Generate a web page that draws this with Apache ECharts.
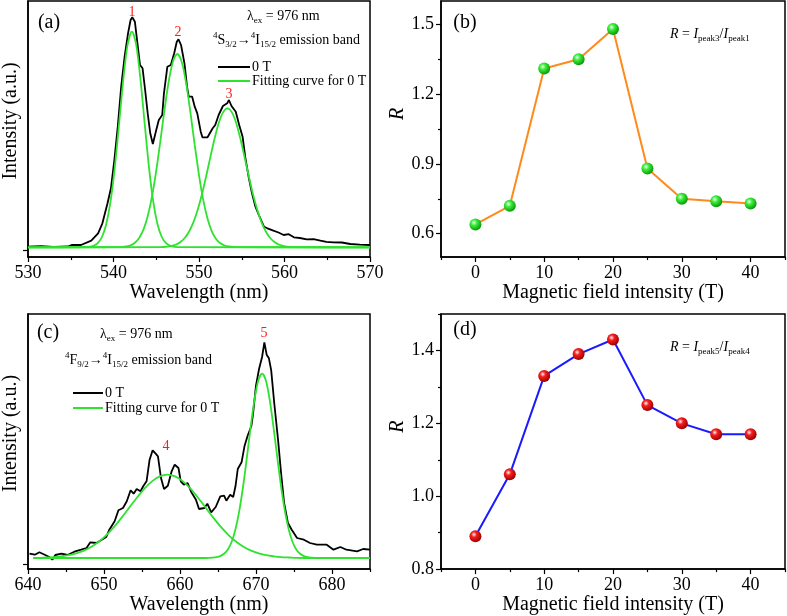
<!DOCTYPE html>
<html>
<head>
<meta charset="utf-8">
<script src="https://cdn.jsdelivr.net/npm/echarts@6/dist/echarts.min.js"></script>
<style>
html, body { margin: 0; padding: 0; background: #fff; }
#main { width: 787px; height: 616px; }
</style>
</head>
<body>
<div id="main"></div>
<script>
// (a) 4S3/2 -> 4I15/2 band, [wavelength nm, intensity a.u.]
var spectrumA = [
  [530.0, 3.3], [531.5, 3.8], [533.0, 3.0], [534.7, 3.5], [535.1, 5.0], [536.2, 5.0],
  [537.4, 9.3], [538.2, 16.7], [538.7, 26.7], [539.3, 46.7], [539.7, 61.7], [540.1, 90],
  [540.5, 123.3], [540.9, 163.3], [541.3, 193.3], [541.7, 216.7], [542.0, 230], [542.2, 232.7],
  [542.5, 228.3], [542.8, 206.7], [543.1, 185], [543.4, 181.7], [543.7, 160], [544.0, 136.7],
  [544.3, 116.7], [544.6, 106], [545.0, 120], [545.3, 130], [545.7, 135], [545.9, 156.7],
  [546.3, 183.3], [546.7, 185], [547.1, 196.7], [547.4, 208.3], [547.6, 210.7], [547.9, 205],
  [548.3, 186.7], [548.6, 163.3], [548.8, 153.3], [549.2, 153.3], [549.5, 143.3], [549.8, 136.7],
  [550.2, 118.3], [550.4, 112.7], [551.0, 112.7], [551.6, 121.7], [551.9, 125], [552.3, 135],
  [552.8, 144], [553.3, 146.7], [553.5, 150], [553.8, 144], [554.3, 138.3], [554.7, 125],
  [555.1, 113.3], [555.4, 93.3], [555.8, 73.3], [556.2, 56.7], [556.6, 43.3], [557.0, 35],
  [557.6, 23.3], [558.0, 21.7], [558.7, 19.3], [559.3, 17.5], [559.9, 15], [560.5, 15.8],
  [561.1, 12.7], [561.8, 12.0], [562.6, 10.7], [563.4, 10.9], [564.2, 9.3], [564.9, 8.2],
  [565.7, 7.7], [566.7, 7.5], [567.7, 6], [568.8, 5.4], [570.0, 5]
];
var fitA1 = [
  [530, 2.7], [536.5, 2.8], [537.15, 3.1], [537.65, 4.1], [538.15, 6.8], [538.65, 13.0],
  [539.15, 25.8], [539.65, 48.4], [540.15, 82.7], [540.65, 126.1], [541.15, 170.9], [541.65, 205.3],
  [542.15, 218.3], [542.65, 205.3], [543.15, 170.9], [543.65, 126.1], [544.15, 82.7], [544.65, 48.4],
  [545.15, 25.8], [545.65, 13.0], [546.15, 6.8], [546.65, 4.1], [547.15, 3.1], [547.8, 2.8], [570, 2.7]
];
var fitA2 = [
  [530, 2.7], [540.5, 2.8], [541.0, 3.0], [541.5, 3.6], [542.0, 4.7], [542.5, 7.2], [543.0, 12.0],
  [543.5, 20.3], [544.0, 33.8], [544.5, 53.4], [545.0, 79.4], [545.5, 110.2], [546.0, 142.3],
  [546.5, 170.6], [547.0, 189.8], [547.46, 196], [548.0, 187.6], [548.5, 166.6], [549.0, 137.3],
  [549.5, 105.1], [550.0, 74.9], [550.5, 49.8], [551.0, 31.2], [551.5, 18.7], [552.0, 11.0],
  [552.5, 6.7], [553.0, 4.5], [553.5, 3.5], [554.0, 3.0], [554.6, 2.8], [570, 2.7]
];
var fitA3 = [
  [530, 2.7], [545.2, 2.8], [545.83, 3.0], [546.33, 3.4], [546.83, 4.2], [547.33, 5.5], [547.83, 8.0],
  [548.33, 12.0], [548.83, 18.3], [549.33, 27.4], [549.83, 39.7], [550.33, 55.2], [550.83, 73.5],
  [551.33, 92.9], [551.83, 111.7], [552.33, 127.5], [552.83, 137.9], [553.33, 141.7], [553.83, 137.9],
  [554.33, 127.5], [554.83, 111.7], [555.33, 92.9], [555.83, 73.5], [556.33, 55.2], [556.83, 39.7],
  [557.33, 27.4], [557.83, 18.3], [558.33, 12.0], [558.83, 8.0], [559.33, 5.5], [559.83, 4.2],
  [560.33, 3.4], [560.83, 3.0], [561.5, 2.8], [570, 2.7]
];

// (c) 4F9/2 -> 4I15/2 band
var spectrumC = [
  [640.2, 10.3], [640.9, 9.3], [641.5, 11.7], [642.2, 9.3], [642.8, 7.0], [643.2, 4.3], [643.6, 9.0],
  [644.4, 10.3], [645.2, 9.0], [646.1, 12.3], [647.0, 14.3], [647.7, 16.0], [648.2, 21.7], [649.0, 21.0],
  [649.6, 23.7], [650.3, 27.0], [650.7, 34.3], [651.4, 42.7], [651.9, 53.7], [652.5, 56.0], [653.0, 62.7],
  [653.5, 73.7], [653.9, 70.3], [654.3, 75.0], [654.8, 72.7], [655.2, 78.3], [655.6, 82.7], [656.0, 104.3],
  [656.4, 113.7], [656.8, 110.3], [657.1, 107.7], [657.5, 86.0], [657.9, 75.0], [658.4, 78.3], [658.9, 92.7],
  [659.3, 99.3], [659.8, 96.0], [660.1, 82.7], [660.5, 79.3], [661.0, 81.0], [661.5, 71.7], [662.1, 64.3],
  [662.5, 55.0], [663.2, 56.0], [663.6, 60.3], [664.1, 51.7], [664.7, 57.0], [665.3, 67.7], [665.8, 68.3],
  [666.1, 63.3], [666.6, 69.3], [667.0, 67.0], [667.3, 77.7], [667.6, 95.0], [668.1, 101.7], [668.5, 118.3],
  [668.9, 128.3], [669.4, 138.3], [669.6, 149.3], [670.0, 178.3], [670.4, 195.0], [670.8, 207.0],
  [671.1, 221.7], [671.4, 209.3], [671.7, 205.7], [672.0, 193.7], [672.4, 161.0], [672.9, 124.3],
  [673.3, 91.0], [673.7, 61.0], [674.2, 41.0], [674.7, 34.3], [675.4, 26.0], [676.3, 24.3], [677.1, 21.0],
  [678.0, 19.3], [679.3, 19.3], [680.2, 14.3], [681.1, 17.0], [681.9, 14.3], [683.3, 12.7], [684.1, 15.0],
  [685.0, 14.3]
];
var fitC4 = [
  [640.7, 6.0], [641.35, 6.1], [642.35, 6.5], [643.35, 6.9], [644.35, 7.7], [645.35, 8.8], [646.35, 10.7],
  [647.35, 13.4], [648.35, 17.3], [649.35, 22.5], [650.35, 29.2], [651.35, 37.3], [652.35, 46.6],
  [653.35, 56.6], [654.35, 66.5], [655.35, 75.6], [656.35, 82.9], [657.35, 87.6], [658.35, 89.3],
  [659.35, 87.6], [660.35, 82.9], [661.35, 75.6], [662.35, 66.5], [663.35, 56.6], [664.35, 46.6],
  [665.35, 37.3], [666.35, 29.2], [667.35, 22.5], [668.35, 17.3], [669.35, 13.4], [670.35, 10.7],
  [671.35, 8.8], [672.35, 7.7], [673.35, 6.9], [674.35, 6.5], [675.35, 6.1], [676.5, 6.0], [685, 6.0]
];
var fitC5 = [
  [640.7, 6.0], [663.3, 6.0], [663.8, 6.1], [664.3, 6.3], [664.8, 6.8], [665.3, 7.9], [665.8, 10.2],
  [666.3, 14.6], [666.8, 22.3], [667.3, 34.8], [667.8, 53.2], [668.3, 77.5], [668.8, 106.6],
  [669.3, 137.0], [669.8, 164.3], [670.3, 183.5], [670.8, 190.3], [671.3, 183.5], [671.8, 164.3],
  [672.3, 137.0], [672.8, 106.6], [673.3, 77.5], [673.8, 53.2], [674.3, 34.8], [674.8, 22.3],
  [675.3, 14.6], [675.8, 10.2], [676.3, 7.9], [676.8, 6.8], [677.3, 6.3], [677.8, 6.1], [678.3, 6.0],
  [685, 6.0]
];

// (b), (d) ratio vs magnetic field
var fieldT = [0, 5, 10, 15, 20, 25, 30, 35, 40];
var ratioB = [0.64, 0.72, 1.31, 1.35, 1.48, 0.88, 0.75, 0.74, 0.73];
var ratioD = [0.89, 1.06, 1.33, 1.39, 1.43, 1.25, 1.20, 1.17, 1.17];

// tick values
var ticksA = [530, 540, 550, 560, 570], minorA = [535, 545, 555, 565];
var ticksC = [640, 650, 660, 670, 680], minorC = [645, 655, 665, 675, 685];
var ticksField = [0, 10, 20, 30, 40], minorField = [-5, 5, 15, 25, 35, 45];
var ticksB = [0.6, 0.9, 1.2, 1.5], minorB = [0.75, 1.05, 1.35];
var ticksD = [0.8, 1.0, 1.2, 1.4], minorD = [0.9, 1.1, 1.3, 1.5];

var FONT = "'Liberation Serif', 'Times New Roman', serif";
var GREEN = '#2fe22f';

function xPair(grid, min, max, major, minor, name, gap) {
  return [{
    gridIndex: grid, type: 'value', position: 'bottom', min: min, max: max,
    name: name, nameLocation: 'middle', nameGap: gap,
    nameTextStyle: { fontFamily: FONT, fontSize: 20, color: '#000' },
    axisLine: { show: true, onZero: false, lineStyle: { color: '#000', width: 1.5 } },
    axisTick: { show: true, customValues: major, length: 5, lineStyle: { color: '#000', width: 1.2 } },
    axisLabel: { customValues: major, fontFamily: FONT, fontSize: 18, color: '#000', margin: 7 },
    splitLine: { show: false }
  }, {
    gridIndex: grid, type: 'value', position: 'bottom', min: min, max: max,
    axisLine: { show: false, onZero: false },
    axisTick: { show: true, customValues: minor, length: 3, lineStyle: { color: '#000', width: 1.2 } },
    axisLabel: { show: false },
    splitLine: { show: false }
  }];
}

function yMain(grid, min, max, major, name, gap, italic, labels, shift) {
  return {
    gridIndex: grid, type: 'value', position: 'left', min: min, max: max,
    name: name, nameLocation: 'middle', nameGap: gap,
    nameTextStyle: { fontFamily: FONT, fontSize: 20, color: '#000',
      fontStyle: italic ? 'italic' : 'normal', padding: [0, 0, 0, shift] },
    axisLine: { show: true, onZero: false, lineStyle: { color: '#000', width: 1.5 } },
    axisTick: { show: true, customValues: major, length: 5, lineStyle: { color: '#000', width: 1.2 } },
    axisLabel: { show: labels, customValues: major, fontFamily: FONT, fontSize: 18, color: '#000', margin: 7,
      formatter: function (v) { return v.toFixed(1); } },
    splitLine: { show: false }
  };
}

function yMinor(grid, min, max, minor) {
  return {
    gridIndex: grid, type: 'value', position: 'left', min: min, max: max,
    axisLine: { show: false, onZero: false },
    axisTick: { show: true, customValues: minor, length: 3, lineStyle: { color: '#000', width: 1.2 } },
    axisLabel: { show: false },
    splitLine: { show: false }
  };
}

function sphere(light, mid, dark) {
  return {
    type: 'radial', x: 0.38, y: 0.35, r: 0.65,
    colorStops: [{ offset: 0, color: light }, { offset: 0.35, color: mid }, { offset: 1, color: dark }]
  };
}

function curve(name, data, x, y, color, smooth) {
  return {
    name: name, type: 'line', xAxisIndex: x, yAxisIndex: y, data: data,
    symbol: 'none', smooth: smooth, lineStyle: { color: color, width: 1.8 },
    itemStyle: { color: color }
  };
}

var rich = {
  m: { fontFamily: FONT, fontSize: 14, color: '#000', lineHeight: 18 },
  i: { fontFamily: FONT, fontSize: 14, color: '#000', lineHeight: 18, fontStyle: 'italic' },
  sub: { fontFamily: FONT, fontSize: 9, color: '#000', lineHeight: 9, verticalAlign: 'bottom' },
  sup: { fontFamily: FONT, fontSize: 9, color: '#000', lineHeight: 9, verticalAlign: 'top' }
};

function label(x, y, text, opts) {
  opts = opts || {};
  return {
    type: 'text', x: x, y: y,
    style: {
      text: text, rich: opts.rich, fill: opts.color || '#000',
      font: (opts.size || 20) + 'px ' + FONT,
      align: opts.align || 'center', verticalAlign: 'middle',
      textAlign: opts.align || 'center', textVerticalAlign: 'middle'
    }
  };
}

function legendAt(left, top, width, gap) {
  return {
    left: left, top: top, orient: 'vertical', icon: 'rect',
    itemWidth: width, itemHeight: 2, itemGap: gap,
    selectedMode: false, data: ['0 T', 'Fitting curve for 0 T'],
    textStyle: { fontFamily: FONT, fontSize: 14, color: '#000', padding: [0, 0, 0, -3] }
  };
}

var grids = [
  { left: 27, top: 1, width: 343, height: 256 },
  { left: 441, top: 1, width: 344, height: 256 },
  { left: 27, top: 314, width: 343, height: 255 },
  { left: 441, top: 314, width: 344, height: 256 }
].map(function (g) {
  g.show = true; g.borderColor = '#000'; g.borderWidth = 1.5; g.containLabel = false;
  return g;
});

var option = {
  animation: false,
  backgroundColor: '#fff',
  grid: grids,
  xAxis: [].concat(
    xPair(0, 530, 570, ticksA, minorA, 'Wavelength (nm)', 24),
    xPair(1, -5, 45, ticksField, minorField, 'Magnetic field intensity (T)', 24),
    xPair(2, 640, 685, ticksC, minorC, 'Wavelength (nm)', 19),
    xPair(3, -5, 45, ticksField, minorField, 'Magnetic field intensity (T)', 21)
  ),
  yAxis: [
    yMain(0, -7, 249, [0], 'Intensity (a.u.)', 7, false, false, 16),
    yMain(1, 0.5, 1.6, ticksB, 'R', 32, true, true, 30),
    yMinor(1, 0.5, 1.6, minorB),
    yMain(2, -5, 250, [0], 'Intensity (a.u.)', 7, false, false, 16),
    yMain(3, 0.8, 1.5, ticksD, 'R', 32, true, true, 30),
    yMinor(3, 0.8, 1.5, minorD)
  ],
  legend: [legendAt(213, 55, 32, 0), legendAt(68, 381, 30, 1)],
  series: [
    curve('0 T', spectrumA, 0, 0, '#000', false),
    curve('Fitting curve for 0 T', fitA1, 0, 0, GREEN, 0.3),
    curve('Fitting curve for 0 T', fitA2, 0, 0, GREEN, 0.3),
    curve('Fitting curve for 0 T', fitA3, 0, 0, GREEN, 0.3),
    {
      type: 'line', xAxisIndex: 2, yAxisIndex: 1,
      data: fieldT.map(function (t, i) { return [t, ratioB[i]]; }),
      symbol: 'circle', symbolSize: 12,
      lineStyle: { color: '#ff8a1c', width: 2 },
      itemStyle: { color: sphere('#f4fff4', '#3ef03e', '#0a9a0a') }
    },
    curve('0 T', spectrumC, 4, 3, '#000', false),
    curve('Fitting curve for 0 T', fitC4, 4, 3, GREEN, 0.3),
    curve('Fitting curve for 0 T', fitC5, 4, 3, GREEN, 0.3),
    {
      type: 'line', xAxisIndex: 6, yAxisIndex: 4,
      data: fieldT.map(function (t, i) { return [t, ratioD[i]]; }),
      symbol: 'circle', symbolSize: 12,
      lineStyle: { color: '#1a1aff', width: 2 },
      itemStyle: { color: sphere('#fff4f4', '#f52020', '#a00000') }
    }
  ],
  graphic: [
    label(49, 23, '(a)'),
    label(465, 23, '(b)'),
    label(48, 333, '(c)'),
    label(465, 330, '(d)'),
    label(132, 12, '1', { size: 14, color: '#ff1a1a' }),
    label(178, 32, '2', { size: 14, color: '#ff1a1a' }),
    label(229, 94, '3', { size: 14, color: '#ff1a1a' }),
    label(166, 446, '4', { size: 14, color: '#ff1a1a' }),
    label(264, 333, '5', { size: 14, color: '#ff1a1a' }),
    label(247, 16, '{m|λ}{sub|ex}{m| = 976 nm}', { rich: rich, align: 'left', size: 14 }),
    label(213, 40, '{sup|4}{m|S}{sub|3/2}{m|→}{sup|4}{m|I}{sub|15/2}{m| emission band}', { rich: rich, align: 'left', size: 14 }),
    label(100, 334, '{m|λ}{sub|ex}{m| = 976 nm}', { rich: rich, align: 'left', size: 14 }),
    label(65, 360, '{sup|4}{m|F}{sub|9/2}{m|→}{sup|4}{m|I}{sub|15/2}{m| emission band}', { rich: rich, align: 'left', size: 14 }),
    label(670, 34, '{i|R}{m| = }{i|I}{sub|peak3}{m|/}{i|I}{sub|peak1}', { rich: rich, align: 'left', size: 14 }),
    label(670, 347, '{i|R}{m| = }{i|I}{sub|peak5}{m|/}{i|I}{sub|peak4}', { rich: rich, align: 'left', size: 14 })
  ]
};

var chart = echarts.init(document.getElementById('main'));
chart.setOption(option);
</script>
</body>
</html>
